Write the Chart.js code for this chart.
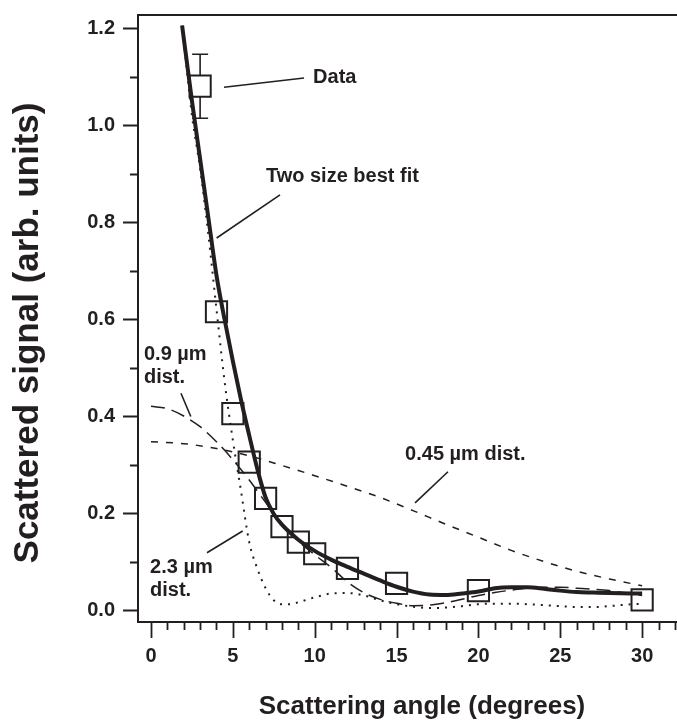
<!DOCTYPE html>
<html>
<head>
<meta charset="utf-8">
<script src="https://cdn.jsdelivr.net/npm/chart.js@4.4.1/dist/chart.umd.min.js"></script>
<style>
  html, body { margin: 0; padding: 0; background: #fff; overflow: hidden; }
  canvas { display: block; }
</style>
</head>
<body>
<canvas id="chart" width="677" height="726"></canvas>
<script>
// measured points (squares) and the one visible error bar
const dataAngles = [3, 4, 5, 6, 7, 8, 9, 10, 12, 15, 20, 30];
const dataSignal = [1.08, 0.615, 0.405, 0.305, 0.23, 0.172, 0.14, 0.116, 0.086, 0.055, 0.04, 0.021];
const dataError = [0.066, 0, 0, 0, 0, 0, 0, 0, 0, 0, 0, 0];

// two size best fit (thick solid)
const fitAngles = [1.9, 2.5, 3, 3.5, 4, 4.5, 5, 5.5, 6, 6.5, 7, 7.5, 8, 9, 10, 11, 12, 13, 14, 15, 16, 17, 18, 19, 20, 21, 22, 23, 24, 25, 26, 27, 28, 30];
const fitSignal = [1.205, 1.05, 0.93, 0.81, 0.69, 0.598, 0.513, 0.433, 0.36, 0.29, 0.232, 0.198, 0.176, 0.145, 0.122, 0.104, 0.089, 0.075, 0.061, 0.048, 0.038, 0.032, 0.031, 0.034, 0.038, 0.045, 0.047, 0.047, 0.044, 0.04, 0.037, 0.036, 0.035, 0.034];

// 0.9 um distribution (long dashes)
const dist09Angles = [0, 1, 2, 3, 4, 5, 6, 7, 8, 9, 10, 11, 12, 13, 14, 15, 16, 17, 18, 19, 20, 21, 22, 23, 24, 25, 26, 27, 28, 29, 30];
const dist09Signal = [0.42, 0.415, 0.4, 0.378, 0.347, 0.31, 0.268, 0.222, 0.178, 0.142, 0.114, 0.088, 0.058, 0.036, 0.022, 0.014, 0.009, 0.01, 0.015, 0.022, 0.03, 0.036, 0.041, 0.045, 0.047, 0.047, 0.045, 0.043, 0.04, 0.035, 0.03];

// 0.45 um distribution (short dashes)
const dist045Angles = [0, 2, 4, 6, 8, 10, 12, 14, 16, 18, 20, 22, 24, 26, 28, 30];
const dist045Signal = [0.347, 0.343, 0.333, 0.318, 0.298, 0.277, 0.255, 0.232, 0.205, 0.177, 0.15, 0.123, 0.1, 0.08, 0.064, 0.05];

// 2.3 um distribution (dots)
const dist23Angles = [1.9, 2.5, 3, 3.5, 4, 4.5, 5, 5.5, 6, 6.5, 7, 7.5, 8, 8.5, 9, 10, 11, 12, 13, 14, 15, 16, 17, 18, 19, 20, 21, 22, 23, 24, 25, 26, 27, 28, 29, 30];
const dist23Signal = [1.205, 1.02, 0.91, 0.775, 0.62, 0.47, 0.35, 0.245, 0.14, 0.085, 0.045, 0.02, 0.012, 0.012, 0.016, 0.026, 0.034, 0.035, 0.03, 0.02, 0.012, 0.007, 0.004, 0.005, 0.008, 0.012, 0.013, 0.013, 0.012, 0.01, 0.008, 0.006, 0.006, 0.008, 0.011, 0.013];

// axis ticks
const xTickValues = [0, 5, 10, 15, 20, 25, 30];
const yTickValues = [0, 0.2, 0.4, 0.6, 0.8, 1.0, 1.2];

const ink = '#231f20';
const family = '"Liberation Sans", Arial, sans-serif';

// labels with their leader lines, in data units
const notes = [
  { lines: ['Data'], at: [9.9, 1.099], from: [4.46, 1.078], to: [9.35, 1.097] },
  { lines: ['Two size best fit'], at: [7.02, 0.893], from: [4.01, 0.767], to: [7.88, 0.856] },
  { lines: ['0.9 \u00b5m', 'dist.'], at: [-0.43, 0.526], from: [1.83, 0.447], to: [2.43, 0.399] },
  { lines: ['0.45 \u00b5m dist.'], at: [15.52, 0.32], from: [18.14, 0.285], to: [16.13, 0.221] },
  { lines: ['2.3 \u00b5m', 'dist.'], at: [-0.06, 0.087], from: [3.42, 0.118], to: [5.6, 0.163] },
];

function toPoints(xs, ys) {
  return xs.map((v, i) => ({ x: v, y: ys[i] }));
}

function curve(xs, ys, width, dash) {
  return {
    data: toPoints(xs, ys),
    showLine: true,
    borderColor: ink,
    borderWidth: width,
    borderDash: dash,
    borderCapStyle: 'butt',
    pointRadius: 0,
    cubicInterpolationMode: 'monotone',
  };
}

const decor = {
  id: 'decor',
  afterDraw(chart) {
    const ctx = chart.ctx;
    const xs = chart.scales.x;
    const ys = chart.scales.y;
    const a = chart.chartArea;
    ctx.save();
    ctx.strokeStyle = ink;
    ctx.fillStyle = ink;

    // frame: top, left and bottom
    ctx.lineWidth = 2;
    ctx.beginPath();
    ctx.moveTo(a.right, a.top);
    ctx.lineTo(a.left, a.top);
    ctx.lineTo(a.left, a.bottom);
    ctx.lineTo(a.right, a.bottom);
    ctx.stroke();

    // x ticks, one per degree, longer every five
    ctx.lineWidth = 1.8;
    ctx.beginPath();
    for (let v = Math.ceil(xs.min); v <= xs.max; v++) {
      const px = Math.round(xs.getPixelForValue(v)) + 0.5;
      ctx.moveTo(px, a.bottom);
      ctx.lineTo(px, a.bottom + (v % 5 === 0 ? 16 : 8));
    }
    // y ticks every 0.1, longer every 0.2
    for (let k = 0; k <= 12; k++) {
      const py = Math.round(ys.getPixelForValue(k / 10)) + 0.5;
      ctx.moveTo(a.left, py);
      ctx.lineTo(a.left - (k % 2 === 0 ? 15 : 8), py);
    }
    ctx.stroke();

    // error bars (outside the square)
    ctx.lineWidth = 1.6;
    dataAngles.forEach((ang, i) => {
      if (!dataError[i]) return;
      const px = xs.getPixelForValue(ang);
      const pc = ys.getPixelForValue(dataSignal[i]);
      const pt = ys.getPixelForValue(dataSignal[i] + dataError[i]);
      const pb = ys.getPixelForValue(dataSignal[i] - dataError[i]);
      ctx.beginPath();
      ctx.moveTo(px, pt); ctx.lineTo(px, pc - 10.5);
      ctx.moveTo(px, pc + 10.5); ctx.lineTo(px, pb);
      ctx.moveTo(px - 8, pt); ctx.lineTo(px + 8, pt);
      ctx.moveTo(px - 8, pb); ctx.lineTo(px + 8, pb);
      ctx.stroke();
    });

    // annotations
    ctx.font = 'bold 20px ' + family;
    ctx.textAlign = 'left';
    ctx.textBaseline = 'middle';
    notes.forEach((n) => {
      const tx = xs.getPixelForValue(n.at[0]);
      const ty = ys.getPixelForValue(n.at[1]);
      n.lines.forEach((t, j) => ctx.fillText(t, tx, ty + j * 23));
      ctx.beginPath();
      ctx.moveTo(xs.getPixelForValue(n.from[0]), ys.getPixelForValue(n.from[1]));
      ctx.lineTo(xs.getPixelForValue(n.to[0]), ys.getPixelForValue(n.to[1]));
      ctx.stroke();
    });

    // axis titles
    ctx.textAlign = 'center';
    ctx.font = 'bold 26px ' + family;
    ctx.fillText('Scattering angle (degrees)', 422, 707);
    ctx.save();
    ctx.translate(28, 333);
    ctx.rotate(-Math.PI / 2);
    ctx.font = 'bold 35px ' + family;
    ctx.fillText('Scattered signal (arb. units)', 0, 0);
    ctx.restore();

    ctx.restore();
  },
};

function noPadding(scale) {
  scale.paddingTop = 0;
  scale.paddingBottom = 0;
  scale.paddingLeft = 0;
  scale.paddingRight = 0;
}

const tickFont = { family: family, size: 20, weight: 'bold' };

new Chart(document.getElementById('chart'), {
  type: 'scatter',
  data: {
    datasets: [
      curve(dist045Angles, dist045Signal, 1.5, [7, 8]),
      curve(dist09Angles, dist09Signal, 1.5, [14, 7]),
      curve(dist23Angles, dist23Signal, 2, [2, 6]),
      curve(fitAngles, fitSignal, 4, []),
      {
        data: toPoints(dataAngles, dataSignal),
        pointStyle: 'rect',
        pointRadius: 15,
        pointHoverRadius: 15,
        pointBorderWidth: 2,
        borderColor: ink,
        backgroundColor: 'rgba(0,0,0,0)',
      },
    ],
  },
  options: {
    responsive: false,
    animation: false,
    devicePixelRatio: 1,
    layout: { autoPadding: false, padding: { top: 15, right: 0, bottom: 0, left: 0 } },
    plugins: { legend: { display: false }, tooltip: { enabled: false } },
    scales: {
      x: {
        type: 'linear',
        min: -0.794,
        max: 32.13,
        border: { display: false },
        grid: { display: false, drawTicks: false },
        afterBuildTicks: (s) => { s.ticks = xTickValues.map((v) => ({ value: v })); },
        afterFit: (s) => { s.height = 104; noPadding(s); },
        ticks: { padding: 22, color: ink, font: tickFont },
      },
      y: {
        type: 'linear',
        min: -0.0247,
        max: 1.2268,
        border: { display: false },
        grid: { display: false, drawTicks: false },
        afterBuildTicks: (s) => { s.ticks = yTickValues.map((v) => ({ value: v })); },
        afterFit: (s) => { s.width = 138; noPadding(s); },
        ticks: { padding: 23, color: ink, font: tickFont, callback: (v) => v.toFixed(1) },
      },
    },
  },
  plugins: [decor],
});
</script>
</body>
</html>
